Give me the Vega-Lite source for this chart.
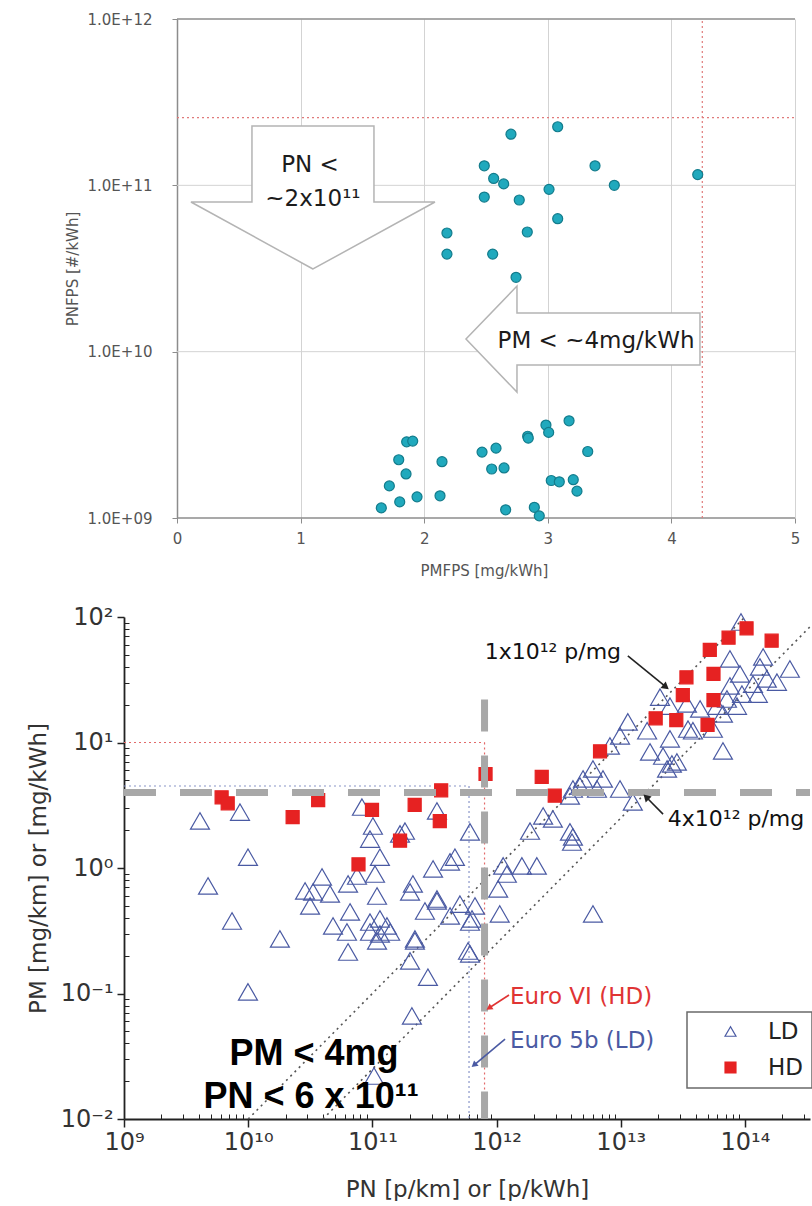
{
  "$schema": "https://vega.github.io/schema/vega-lite/v6.json",
  "padding": {"left": 27, "top": 12, "right": 0, "bottom": 0},
  "autosize": {"type": "pad"},
  "background": "white",
  "config": {
    "font": "DejaVu Sans",
    "axis": {"labelFont": "DejaVu Sans", "titleFont": "DejaVu Sans"},
    "text": {"font": "DejaVu Sans"},
    "legend": {
      "orient": "none", "legendX": 563, "legendY": 993, "title": null,
      "fillColor": "white", "strokeColor": "#6a6a6a", "strokeWidth": 1.5,
      "padding": 8, "symbolOffset": 24, "labelOffset": 26, "rowPadding": 12,
      "symbolSize": 120, "symbolStrokeWidth": 1.2,
      "labelFont": "DejaVu Sans", "labelFontSize": 23, "labelColor": "#222"
    }
  },
  "datasets": {
    "topPts": [
      {"x": 3.08, "y": 2.25e11}, {"x": 2.702, "y": 2.03e11}, {"x": 2.486, "y": 1.31e11}, {"x": 3.382, "y": 1.31e11},
      {"x": 4.213, "y": 1.16e11}, {"x": 2.562, "y": 1.1e11}, {"x": 2.643, "y": 1.02e11}, {"x": 3.01, "y": 9.46e10},
      {"x": 3.538, "y": 1.0e11}, {"x": 2.486, "y": 8.5e10}, {"x": 2.769, "y": 8.16e10}, {"x": 3.08, "y": 6.3e10},
      {"x": 2.184, "y": 5.17e10}, {"x": 2.834, "y": 5.24e10}, {"x": 2.184, "y": 3.86e10}, {"x": 2.554, "y": 3.86e10},
      {"x": 2.743, "y": 2.8e10},
      {"x": 3.172, "y": 3.84e9}, {"x": 2.985, "y": 3.62e9}, {"x": 3.007, "y": 3.27e9}, {"x": 2.837, "y": 3.1e9},
      {"x": 2.842, "y": 3.02e9}, {"x": 1.858, "y": 2.87e9}, {"x": 1.907, "y": 2.9e9}, {"x": 2.581, "y": 2.63e9},
      {"x": 2.468, "y": 2.49e9}, {"x": 3.323, "y": 2.51e9}, {"x": 1.794, "y": 2.24e9}, {"x": 2.144, "y": 2.18e9},
      {"x": 2.546, "y": 1.97e9}, {"x": 2.646, "y": 2.0e9}, {"x": 1.853, "y": 1.84e9}, {"x": 3.028, "y": 1.68e9},
      {"x": 3.093, "y": 1.65e9}, {"x": 3.206, "y": 1.7e9}, {"x": 1.718, "y": 1.56e9}, {"x": 3.236, "y": 1.45e9},
      {"x": 1.802, "y": 1.25e9}, {"x": 1.942, "y": 1.34e9}, {"x": 2.128, "y": 1.36e9}, {"x": 1.653, "y": 1.15e9},
      {"x": 2.659, "y": 1.12e9}, {"x": 2.891, "y": 1.16e9}, {"x": 2.931, "y": 1.03e9}
    ],
    "topRefs": [
      {"x": 0, "x2": 5, "y": 2.55e11, "y2": 2.55e11},
      {"x": 4.25, "x2": 4.25, "y": 1e9, "y2": 1e12}
    ],
    "topGrid": [
      {"g": "grid", "x": 0, "x2": 5, "y": 1e10, "y2": 1e10},
      {"g": "grid", "x": 0, "x2": 5, "y": 1e11, "y2": 1e11},
      {"g": "frame", "x": 0, "x2": 5, "y": 1e12, "y2": 1e12},
      {"g": "frame", "x": 0, "x2": 5, "y": 1e9, "y2": 1e9}
    ],
    "topShapes": [
      {"id": "down", "x": 1.1, "y": 3.14e10},
      {"id": "left", "x": 2.338, "y": 1.19e10}
    ],
    "topText": [
      {"label": "PN <", "x": 1.076, "y": 1.32e11},
      {"label": "~2x10¹¹", "x": 1.1, "y": 8.27e10},
      {"label": "PM < ~4mg/kWh", "x": 3.39, "y": 1.16e10}
    ],
    "pts": [
      {"x": 9.29e13, "y": 91.2, "type": "LD"}, {"x": 1.4e14, "y": 48.0, "type": "LD"}, {"x": 7.57e13, "y": 46.3, "type": "LD"},
      {"x": 2.3e14, "y": 38.5, "type": "LD"}, {"x": 1.32e14, "y": 40.0, "type": "LD"}, {"x": 9.12e13, "y": 35.2, "type": "LD"},
      {"x": 1.5e14, "y": 32.1, "type": "LD"}, {"x": 1.81e14, "y": 30.3, "type": "LD"}, {"x": 1.16e14, "y": 29.2, "type": "LD"},
      {"x": 7.57e13, "y": 28.2, "type": "LD"}, {"x": 9.46e13, "y": 24.3, "type": "LD"}, {"x": 1.27e14, "y": 24.3, "type": "LD"},
      {"x": 7.16e13, "y": 22.2, "type": "LD"}, {"x": 5.96e13, "y": 19.5, "type": "LD"}, {"x": 8.63e13, "y": 19.5, "type": "LD"},
      {"x": 2.07e13, "y": 23.0, "type": "LD"}, {"x": 2.49e13, "y": 19.5, "type": "LD"}, {"x": 4.35e13, "y": 18.5, "type": "LD"},
      {"x": 6.65e13, "y": 16.9, "type": "LD"}, {"x": 1.14e13, "y": 14.6, "type": "LD"}, {"x": 1.63e13, "y": 12.4, "type": "LD"},
      {"x": 3.81e13, "y": 12.4, "type": "LD"}, {"x": 5.52e13, "y": 12.8, "type": "LD"}, {"x": 9.86e12, "y": 11.3, "type": "LD"},
      {"x": 2.49e13, "y": 10.7, "type": "LD"}, {"x": 6.65e13, "y": 8.56, "type": "LD"}, {"x": 1.72e13, "y": 8.4, "type": "LD"},
      {"x": 2.19e13, "y": 7.8, "type": "LD"}, {"x": 2.83e13, "y": 7.0, "type": "LD"}, {"x": 2.36e13, "y": 6.15, "type": "LD"},
      {"x": 8.18e12, "y": 9.38, "type": "LD"}, {"x": 5.97e12, "y": 6.15, "type": "LD"}, {"x": 4.97e12, "y": 5.12, "type": "LD"},
      {"x": 7.19e12, "y": 5.12, "type": "LD"}, {"x": 4.12e12, "y": 4.26, "type": "LD"}, {"x": 9.86e12, "y": 4.26, "type": "LD"},
      {"x": 6.43e12, "y": 4.26, "type": "LD"}, {"x": 1.25e13, "y": 3.36, "type": "LD"}, {"x": 3.9e12, "y": 3.75, "type": "LD"},
      {"x": 2.84e12, "y": 2.46, "type": "LD"}, {"x": 2.37e12, "y": 2.6, "type": "LD"}, {"x": 1.86e12, "y": 1.97, "type": "LD"},
      {"x": 3.9e12, "y": 1.94, "type": "LD"}, {"x": 4.12e12, "y": 1.77, "type": "LD"}, {"x": 4.05e12, "y": 1.61, "type": "LD"},
      {"x": 4.69e12, "y": 4.5, "type": "LD"}, {"x": 6.11e11, "y": 1.94, "type": "LD"}, {"x": 3.08e11, "y": 0.982, "type": "LD"},
      {"x": 4.22e11, "y": 1.12, "type": "LD"}, {"x": 4.62e11, "y": 1.22, "type": "LD"}, {"x": 1.13e12, "y": 1.04, "type": "LD"},
      {"x": 1.21e12, "y": 0.895, "type": "LD"}, {"x": 1.6e12, "y": 1.04, "type": "LD"}, {"x": 2.11e12, "y": 1.04, "type": "LD"},
      {"x": 1.03e12, "y": 0.681, "type": "LD"}, {"x": 2.12e11, "y": 0.746, "type": "LD"}, {"x": 2.01e11, "y": 0.644, "type": "LD"},
      {"x": 3.31e11, "y": 0.566, "type": "LD"}, {"x": 2.65e11, "y": 0.454, "type": "LD"}, {"x": 5.07e11, "y": 0.516, "type": "LD"},
      {"x": 4.22e11, "y": 0.415, "type": "LD"}, {"x": 6.34e11, "y": 0.393, "type": "LD"}, {"x": 6.7e11, "y": 0.498, "type": "LD"},
      {"x": 1.06e12, "y": 0.43, "type": "LD"}, {"x": 5.97e12, "y": 0.43, "type": "LD"}, {"x": 2.2e11, "y": 0.272, "type": "LD"},
      {"x": 5.89e11, "y": 0.218, "type": "LD"}, {"x": 1.67e11, "y": 1.87, "type": "LD"}, {"x": 3.31e11, "y": 2.85, "type": "LD"},
      {"x": 4.09e9, "y": 2.37, "type": "LD"}, {"x": 8.59e9, "y": 2.79, "type": "LD"}, {"x": 9.96e9, "y": 1.22, "type": "LD"},
      {"x": 4.75e9, "y": 0.719, "type": "LD"}, {"x": 8.24e10, "y": 3.06, "type": "LD"}, {"x": 1.01e11, "y": 2.16, "type": "LD"},
      {"x": 9.57e10, "y": 1.7, "type": "LD"}, {"x": 1.15e11, "y": 1.22, "type": "LD"}, {"x": 1.05e11, "y": 0.895, "type": "LD"},
      {"x": 3.93e10, "y": 0.848, "type": "LD"}, {"x": 2.87e10, "y": 0.656, "type": "LD"}, {"x": 3.33e10, "y": 0.644, "type": "LD"},
      {"x": 4.56e10, "y": 0.621, "type": "LD"}, {"x": 6.37e10, "y": 0.746, "type": "LD"}, {"x": 7.52e10, "y": 0.863, "type": "LD"},
      {"x": 3.15e10, "y": 0.498, "type": "LD"}, {"x": 1.09e11, "y": 0.598, "type": "LD"}, {"x": 1.83e11, "y": 1.97, "type": "LD"},
      {"x": 3.31e11, "y": 0.546, "type": "LD"}, {"x": 6.61e10, "y": 0.446, "type": "LD"}, {"x": 7.41e9, "y": 0.378, "type": "LD"},
      {"x": 4.82e10, "y": 0.345, "type": "LD"}, {"x": 9.57e10, "y": 0.371, "type": "LD"}, {"x": 1.15e11, "y": 0.393, "type": "LD"},
      {"x": 1.31e11, "y": 0.345, "type": "LD"}, {"x": 6.24e10, "y": 0.309, "type": "LD"}, {"x": 9.57e10, "y": 0.309, "type": "LD"},
      {"x": 1.15e11, "y": 0.298, "type": "LD"}, {"x": 1.39e11, "y": 0.309, "type": "LD"}, {"x": 6.11e11, "y": 0.371, "type": "LD"},
      {"x": 1.8e10, "y": 0.272, "type": "LD"}, {"x": 1.09e11, "y": 0.262, "type": "LD"}, {"x": 2.2e11, "y": 0.262, "type": "LD"},
      {"x": 6.37e10, "y": 0.214, "type": "LD"}, {"x": 6.11e11, "y": 0.207, "type": "LD"}, {"x": 2.01e11, "y": 0.182, "type": "LD"},
      {"x": 2.8e11, "y": 0.135, "type": "LD"}, {"x": 9.96e9, "y": 0.103, "type": "LD"}, {"x": 2.08e11, "y": 0.0662, "type": "LD"},
      {"x": 1.03e11, "y": 0.022, "type": "LD"}, {"x": 3.41e13, "y": 20.3, "type": "LD"}, {"x": 3.48e13, "y": 12.8, "type": "LD"},
      {"x": 2.58e13, "y": 6.74, "type": "LD"},
      {"x": 1.03e14, "y": 81.3, "type": "HD"}, {"x": 7.38e13, "y": 68.4, "type": "HD"}, {"x": 1.64e14, "y": 64.7, "type": "HD"},
      {"x": 5.21e13, "y": 54.6, "type": "HD"}, {"x": 3.38e13, "y": 33.1, "type": "HD"}, {"x": 5.58e13, "y": 35.2, "type": "HD"},
      {"x": 3.16e13, "y": 23.9, "type": "HD"}, {"x": 5.58e13, "y": 21.8, "type": "HD"}, {"x": 1.91e13, "y": 15.6, "type": "HD"},
      {"x": 2.8e13, "y": 15.1, "type": "HD"}, {"x": 5.0e13, "y": 13.8, "type": "HD"}, {"x": 6.81e12, "y": 8.51, "type": "HD"},
      {"x": 8.15e11, "y": 5.61, "type": "HD"}, {"x": 2.31e12, "y": 5.33, "type": "HD"}, {"x": 2.94e12, "y": 3.77, "type": "HD"},
      {"x": 3.58e11, "y": 4.16, "type": "HD"}, {"x": 6.11e9, "y": 3.66, "type": "HD"}, {"x": 6.84e9, "y": 3.28, "type": "HD"},
      {"x": 3.66e10, "y": 3.48, "type": "HD"}, {"x": 9.93e10, "y": 2.9, "type": "HD"}, {"x": 2.19e11, "y": 3.18, "type": "HD"},
      {"x": 2.28e10, "y": 2.54, "type": "HD"}, {"x": 3.49e11, "y": 2.36, "type": "HD"}, {"x": 1.67e11, "y": 1.65, "type": "HD"},
      {"x": 7.73e10, "y": 1.07, "type": "HD"}
    ],
    "refs": [
      {"g": "red", "x": 1e9, "x2": 8e11, "y": 10, "y2": 10},
      {"g": "red", "x": 8e11, "x2": 8e11, "y": 10, "y2": 0.01},
      {"g": "blue", "x": 1e9, "x2": 6e11, "y": 4.5, "y2": 4.5},
      {"g": "blue", "x": 6e11, "x2": 6e11, "y": 4.5, "y2": 0.01},
      {"g": "diag", "x": 1e10, "x2": 1e14, "y": 0.01, "y2": 100},
      {"g": "diag", "x": 4e10, "x2": 3.34e14, "y": 0.01, "y2": 83.5},
      {"g": "thick", "x": 1e9, "x2": 3.34e14, "y": 4, "y2": 4},
      {"g": "thick", "x": 8e11, "x2": 8e11, "y": 22, "y2": 0.01}
    ],
    "arrows": [
      {"id": "a1", "x": 1.14e13, "y": 48.9, "x2": 2.31e13, "y2": 27.7},
      {"id": "a2", "x": 2.19e13, "y": 2.69, "x2": 1.6e13, "y2": 3.68},
      {"id": "a3", "x": 1.26e12, "y": 0.0973, "x2": 8.69e11, "y2": 0.0766},
      {"id": "a4", "x": 1.17e12, "y": 0.0433, "x2": 6.58e11, "y2": 0.0269}
    ],
    "notes": [
      {"id": "t1", "label": "1x10¹² p/mg", "x": 2.84e12, "y": 52.6},
      {"id": "t2", "label": "4x10¹² p/mg", "x": 8.47e13, "y": 2.46},
      {"id": "t3", "label": "Euro VI (HD)", "x": 1.28e12, "y": 0.0938},
      {"id": "t4", "label": "Euro 5b (LD)", "x": 1.28e12, "y": 0.0419},
      {"id": "t5", "label": "PM < 4mg", "x": 3.39e10, "y": 0.033},
      {"id": "t6", "label": "PN < 6 x 10¹¹", "x": 3.21e10, "y": 0.015}
    ]
  },
  "spacing": 27,
  "vconcat": [
    {
      "width": 671,
      "height": 499,
      "view": {"stroke": null},
      "encoding": {
        "x": {
          "field": "x", "type": "quantitative",
          "scale": {"domain": [-0.4288, 5], "nice": false, "zero": false},
          "axis": {
            "values": [0, 1, 2, 3, 4, 5], "format": "d", "title": "PMFPS [mg/kWh]",
            "domain": false, "grid": true, "gridColor": "#d3d3d3",
            "tickColor": "#8c8c8c", "tickSize": 5, "labelColor": "#555", "labelFontSize": 15,
            "labelPadding": 8, "labelFlush": false, "titleColor": "#555", "titleFontSize": 15,
            "titleFontWeight": "normal", "titlePadding": 17, "titleX": 360
          }
        },
        "y": {
          "field": "y", "type": "quantitative",
          "scale": {"type": "log", "domain": [1e9, 1e12], "nice": false},
          "axis": {
            "values": [1e9, 1e10, 1e11, 1e12], "offset": -53,
            "labelExpr": "datum.value < 5e9 ? '1.0E+09' : datum.value < 5e10 ? '1.0E+10' : datum.value < 5e11 ? '1.0E+11' : '1.0E+12'",
            "title": "PNFPS [#/kWh]",
            "grid": false, "domainColor": "#8c8c8c", "domainWidth": 1.5,
            "tickColor": "#8c8c8c", "tickSize": 5, "labelColor": "#555", "labelFontSize": 15,
            "labelPadding": 20, "labelFlush": false, "titleColor": "#555", "titleFontSize": 15,
            "titleFontWeight": "normal", "titlePadding": 7
          }
        }
      },
      "layer": [
        {
          "data": {"name": "topGrid"},
          "transform": [{"filter": "datum.g == 'grid'"}],
          "mark": {"type": "rule", "color": "#d3d3d3", "strokeWidth": 1},
          "encoding": {"x2": {"field": "x2"}, "y2": {"field": "y2"}}
        },
        {
          "data": {"name": "topGrid"},
          "transform": [{"filter": "datum.g == 'frame'"}],
          "mark": {"type": "rule", "color": "#8c8c8c", "strokeWidth": 1.5},
          "encoding": {"x2": {"field": "x2"}, "y2": {"field": "y2"}}
        },
        {
          "data": {"name": "topRefs"},
          "mark": {"type": "rule", "color": "#e07a7a", "strokeDash": [2, 3], "strokeWidth": 1.2},
          "encoding": {"x2": {"field": "x2"}, "y2": {"field": "y2"}}
        },
        {
          "data": {"name": "topShapes"},
          "transform": [{"filter": "datum.id == 'down'"}],
          "mark": {"type": "point", "shape": "M0,0L-122,-67L-61,-67L-61,-143L61,-143L61,-67L122,-67Z", "size": 4, "filled": true, "fill": "white", "stroke": "#b4b4b4", "strokeWidth": 1.5, "opacity": 1}
        },
        {
          "data": {"name": "topShapes"},
          "transform": [{"filter": "datum.id == 'left'"}],
          "mark": {"type": "point", "shape": "M0,0L51,-53L51,-26L234,-26L234,26L51,26L51,53Z", "size": 4, "filled": true, "fill": "white", "stroke": "#b4b4b4", "strokeWidth": 1.5, "opacity": 1}
        },
        {
          "data": {"name": "topText"},
          "mark": {"type": "text", "fontSize": 23, "color": "#1c1c1c", "align": "center", "baseline": "middle"},
          "encoding": {"text": {"field": "label"}}
        },
        {
          "data": {"name": "topPts"},
          "mark": {"type": "point", "shape": "circle", "size": 100, "filled": true, "fill": "#20a9bd", "stroke": "#137c8c", "strokeWidth": 1.2, "opacity": 1}
        }
      ]
    },
    {
      "width": 686,
      "height": 502,
      "view": {"stroke": null},
      "resolve": {"axis": {"x": "independent", "y": "independent"}},
      "encoding": {
        "x": {"field": "x", "type": "quantitative", "scale": {"type": "log", "domain": [1e9, 3.34e14], "nice": false}, "axis": null},
        "y": {"field": "y", "type": "quantitative", "scale": {"type": "log", "domain": [0.01, 100], "nice": false}, "axis": null}
      },
      "layer": [
        {
          "data": {"name": "refs"},
          "transform": [{"filter": "datum.g == 'red'"}],
          "mark": {"type": "rule", "color": "#e36a6a", "strokeDash": [2, 3], "strokeWidth": 1.2},
          "encoding": {"x2": {"field": "x2"}, "y2": {"field": "y2"}}
        },
        {
          "data": {"name": "refs"},
          "transform": [{"filter": "datum.g == 'blue'"}],
          "mark": {"type": "rule", "color": "#8a96c8", "strokeDash": [2, 3], "strokeWidth": 1.2},
          "encoding": {"x2": {"field": "x2"}, "y2": {"field": "y2"}}
        },
        {
          "data": {"name": "refs"},
          "transform": [{"filter": "datum.g == 'diag'"}],
          "mark": {"type": "rule", "color": "#555", "strokeDash": [2, 4], "strokeWidth": 1.6},
          "encoding": {
            "x": {
              "field": "x", "type": "quantitative", "scale": {"type": "log", "domain": [1e9, 3.34e14], "nice": false},
              "axis": {
                "orient": "bottom",
                "values": [2e9, 3e9, 4e9, 5e9, 6e9, 7e9, 8e9, 9e9, 2e10, 3e10, 4e10, 5e10, 6e10, 7e10, 8e10, 9e10, 2e11, 3e11, 4e11, 5e11, 6e11, 7e11, 8e11, 9e11, 2e12, 3e12, 4e12, 5e12, 6e12, 7e12, 8e12, 9e12, 2e13, 3e13, 4e13, 5e13, 6e13, 7e13, 8e13, 9e13, 2e14, 3e14],
                "labels": false, "domain": false, "grid": false, "title": null,
                "tickSize": -5, "tickColor": "#222", "tickWidth": 1
              }
            },
            "y": {
              "field": "y", "type": "quantitative", "scale": {"type": "log", "domain": [0.01, 100], "nice": false},
              "axis": {
                "orient": "left",
                "values": [0.02, 0.03, 0.04, 0.05, 0.06, 0.07, 0.08, 0.09, 0.2, 0.3, 0.4, 0.5, 0.6, 0.7, 0.8, 0.9, 2, 3, 4, 5, 6, 7, 8, 9, 20, 30, 40, 50, 60, 70, 80, 90],
                "labels": false, "domain": false, "grid": false, "title": null,
                "tickSize": -5, "tickColor": "#222", "tickWidth": 1
              }
            },
            "x2": {"field": "x2"}, "y2": {"field": "y2"}
          }
        },
        {
          "data": {"name": "pts"},
          "transform": [{"filter": "datum.type == 'LD'"}],
          "mark": {"type": "point", "opacity": 1, "strokeWidth": 1.2, "size": 360},
          "encoding": {
            "x": {
              "field": "x", "type": "quantitative", "scale": {"type": "log", "domain": [1e9, 3.34e14], "nice": false},
              "axis": {
                "orient": "bottom",
                "values": [1e9, 1e10, 1e11, 1e12, 1e13, 1e14],
                "labelExpr": "'10' + (datum.value < 5e9 ? '⁹' : datum.value < 5e10 ? '¹⁰' : datum.value < 5e11 ? '¹¹' : datum.value < 5e12 ? '¹²' : datum.value < 5e13 ? '¹³' : '¹⁴')",
                "title": "PN [p/km] or [p/kWh]", "grid": false,
                "domainColor": "#222", "domainWidth": 1.8, "tickColor": "#222", "tickWidth": 1.5, "tickSize": 8,
                "labelFontSize": 24, "labelColor": "#333", "labelPadding": 3, "labelFlush": false,
                "titleFontSize": 23, "titleFontWeight": "normal", "titleColor": "#333", "titlePadding": 24
              }
            },
            "y": {
              "field": "y", "type": "quantitative", "scale": {"type": "log", "domain": [0.01, 100], "nice": false},
              "axis": {
                "orient": "left",
                "values": [0.01, 0.1, 1, 10, 100],
                "labelExpr": "'10' + (datum.value < 0.05 ? '⁻²' : datum.value < 0.5 ? '⁻¹' : datum.value < 5 ? '⁰' : datum.value < 50 ? '¹' : '²')",
                "title": "PM [mg/km] or [mg/kWh]", "grid": false,
                "domainColor": "#222", "domainWidth": 1.8, "tickColor": "#222", "tickWidth": 1.5, "tickSize": 7,
                "labelFontSize": 24, "labelColor": "#333", "labelPadding": 4, "labelFlush": false,
                "titleFontSize": 23, "titleFontWeight": "normal", "titleColor": "#333", "titlePadding": 10
              }
            },
            "shape": {"field": "type", "type": "nominal", "title": null, "scale": {"domain": ["LD", "HD"], "range": ["triangle-up", "square"]}},
            "stroke": {"field": "type", "type": "nominal", "title": null, "scale": {"domain": ["LD", "HD"], "range": ["#4a5aa3", "#e62222"]}},
            "fill": {"field": "type", "type": "nominal", "title": null, "scale": {"domain": ["LD", "HD"], "range": ["transparent", "#e62222"]}}
          }
        },
        {
          "data": {"name": "pts"},
          "transform": [{"filter": "datum.type == 'HD'"}],
          "mark": {"type": "point", "opacity": 1, "strokeWidth": 1.2, "size": 170},
          "encoding": {
            "shape": {"field": "type", "type": "nominal", "title": null, "scale": {"domain": ["LD", "HD"], "range": ["triangle-up", "square"]}},
            "stroke": {"field": "type", "type": "nominal", "title": null, "scale": {"domain": ["LD", "HD"], "range": ["#4a5aa3", "#e62222"]}},
            "fill": {"field": "type", "type": "nominal", "title": null, "scale": {"domain": ["LD", "HD"], "range": ["transparent", "#e62222"]}}
          }
        },
        {
          "data": {"name": "refs"},
          "transform": [{"filter": "datum.g == 'thick'"}],
          "mark": {"type": "rule", "color": "#a8a8a8", "strokeDash": [32, 24], "strokeWidth": 7},
          "encoding": {"x2": {"field": "x2"}, "y2": {"field": "y2"}}
        },
        {
          "data": {"name": "arrows"},
          "transform": [{"filter": "datum.id == 'a1' || datum.id == 'a2'"}],
          "mark": {"type": "rule", "color": "#222", "strokeWidth": 1.6},
          "encoding": {"x2": {"field": "x2"}, "y2": {"field": "y2"}}
        },
        {
          "data": {"name": "arrows"},
          "transform": [{"filter": "datum.id == 'a3'"}],
          "mark": {"type": "rule", "color": "#e03434", "strokeWidth": 1.6},
          "encoding": {"x2": {"field": "x2"}, "y2": {"field": "y2"}}
        },
        {
          "data": {"name": "arrows"},
          "transform": [{"filter": "datum.id == 'a4'"}],
          "mark": {"type": "rule", "color": "#4a5aa3", "strokeWidth": 1.6},
          "encoding": {"x2": {"field": "x2"}, "y2": {"field": "y2"}}
        },
        {
          "data": {"name": "arrows"},
          "transform": [{"filter": "datum.id == 'a1'"}],
          "mark": {"type": "point", "shape": "triangle-up", "size": 70, "filled": true, "color": "#222", "opacity": 1, "angle": 129},
          "encoding": {
            "x": {"field": "x2", "type": "quantitative", "scale": {"type": "log", "domain": [1e9, 3.34e14], "nice": false}, "axis": null},
            "y": {"field": "y2", "type": "quantitative", "scale": {"type": "log", "domain": [0.01, 100], "nice": false}, "axis": null}
          }
        },
        {
          "data": {"name": "arrows"},
          "transform": [{"filter": "datum.id == 'a2'"}],
          "mark": {"type": "point", "shape": "triangle-up", "size": 70, "filled": true, "color": "#222", "opacity": 1, "angle": 315},
          "encoding": {
            "x": {"field": "x2", "type": "quantitative", "scale": {"type": "log", "domain": [1e9, 3.34e14], "nice": false}, "axis": null},
            "y": {"field": "y2", "type": "quantitative", "scale": {"type": "log", "domain": [0.01, 100], "nice": false}, "axis": null}
          }
        },
        {
          "data": {"name": "arrows"},
          "transform": [{"filter": "datum.id == 'a3'"}],
          "mark": {"type": "point", "shape": "triangle-up", "size": 50, "filled": true, "color": "#e03434", "opacity": 1, "angle": 237},
          "encoding": {
            "x": {"field": "x2", "type": "quantitative", "scale": {"type": "log", "domain": [1e9, 3.34e14], "nice": false}, "axis": null},
            "y": {"field": "y2", "type": "quantitative", "scale": {"type": "log", "domain": [0.01, 100], "nice": false}, "axis": null}
          }
        },
        {
          "data": {"name": "arrows"},
          "transform": [{"filter": "datum.id == 'a4'"}],
          "mark": {"type": "point", "shape": "triangle-up", "size": 50, "filled": true, "color": "#4a5aa3", "opacity": 1, "angle": 230},
          "encoding": {
            "x": {"field": "x2", "type": "quantitative", "scale": {"type": "log", "domain": [1e9, 3.34e14], "nice": false}, "axis": null},
            "y": {"field": "y2", "type": "quantitative", "scale": {"type": "log", "domain": [0.01, 100], "nice": false}, "axis": null}
          }
        },
        {
          "data": {"name": "notes"},
          "transform": [{"filter": "datum.id == 't1' || datum.id == 't2'"}],
          "mark": {"type": "text", "fontSize": 22, "color": "#111", "align": "center", "baseline": "middle"},
          "encoding": {"text": {"field": "label"}}
        },
        {
          "data": {"name": "notes"},
          "transform": [{"filter": "datum.id == 't3'"}],
          "mark": {"type": "text", "fontSize": 23, "color": "#e03434", "align": "left", "baseline": "middle"},
          "encoding": {"text": {"field": "label"}}
        },
        {
          "data": {"name": "notes"},
          "transform": [{"filter": "datum.id == 't4'"}],
          "mark": {"type": "text", "fontSize": 23, "color": "#4a5aa3", "align": "left", "baseline": "middle"},
          "encoding": {"text": {"field": "label"}}
        },
        {
          "data": {"name": "notes"},
          "transform": [{"filter": "datum.id == 't5' || datum.id == 't6'"}],
          "mark": {"type": "text", "font": "Liberation Sans", "fontWeight": "bold", "fontSize": 36, "color": "#000", "align": "center", "baseline": "middle"},
          "encoding": {"text": {"field": "label"}}
        }
      ]
    }
  ]
}
